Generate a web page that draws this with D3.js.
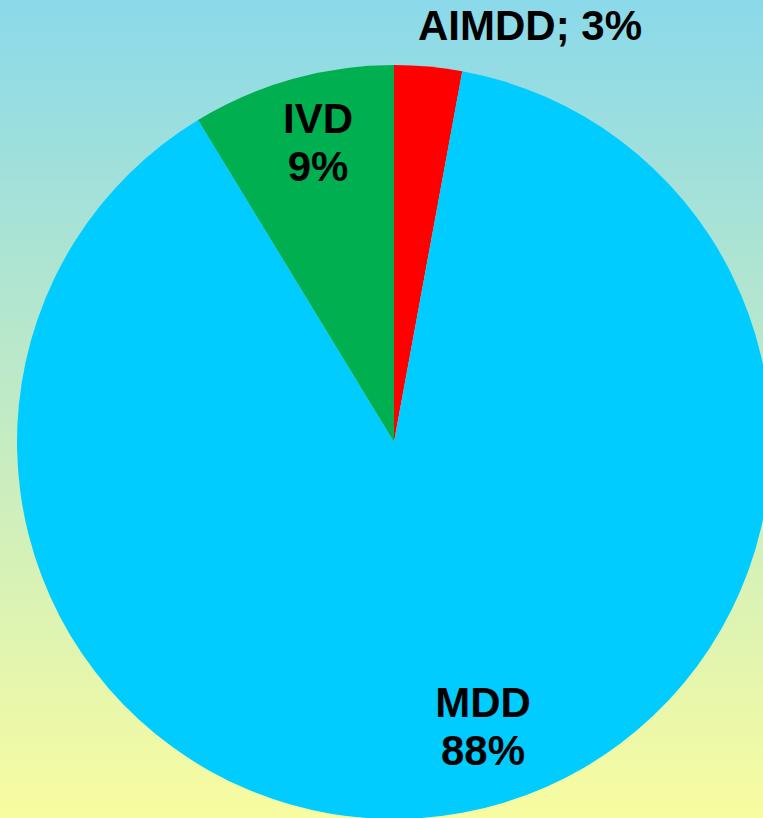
<!DOCTYPE html>
<html>
<head>
<meta charset="utf-8">
<script src="https://cdn.jsdelivr.net/npm/d3@7"></script>
<style>
  html, body { margin: 0; padding: 0; overflow: hidden; }
  #chart { width: 763px; height: 818px; }
</style>
</head>
<body>
<div id="chart"></div>
<script>
// slices in drawing order, clockwise from 12 o'clock
const categories = ["AIMDD", "MDD", "IVD"];
const shares = [2.9, 88.4, 8.7];
const labels = ["AIMDD; 3%", "MDD\n88%", "IVD\n9%"];
const colors = ["#ff0000", "#00ccff", "#00b050"];

const width = 763, height = 818;
const cx = 394, cy = 442, radius = 377;

const svg = d3.select("#chart").append("svg")
    .attr("width", width)
    .attr("height", height);

// background gradient
const grad = svg.append("defs").append("linearGradient")
    .attr("id", "bg")
    .attr("x1", 0).attr("y1", 0)
    .attr("x2", 0).attr("y2", 1);
grad.append("stop").attr("offset", "0%").attr("stop-color", "#8ad9ea");
grad.append("stop").attr("offset", "100%").attr("stop-color", "#f8fca0");

svg.append("rect")
    .attr("width", width)
    .attr("height", height)
    .attr("fill", "url(#bg)");

const data = categories.map((c, i) => ({name: c, value: shares[i], label: labels[i], color: colors[i]}));

const pie = d3.pie()
    .sort(null)
    .value(d => d.value);

const arc = d3.arc()
    .innerRadius(0)
    .outerRadius(radius);

const g = svg.append("g")
    .attr("transform", `translate(${cx},${cy})`);

const arcs = pie(data);

g.selectAll("path")
    .data(arcs)
    .enter().append("path")
    .attr("d", arc)
    .attr("fill", d => d.data.color);

// label positions (relative to the centre)
const labelPos = {
    "AIMDD": [136, -402],
    "MDD": [89, 275],
    "IVD": [-76, -309]
};

const lineH = 48;
arcs.forEach(a => {
    const [lx, ly] = labelPos[a.data.name];
    const lines = a.data.label.split("\n");
    const t = g.append("text")
        .attr("x", lx)
        .attr("y", ly)
        .attr("text-anchor", "middle")
        .style("font-family", "'Liberation Sans', Arial, sans-serif")
        .style("font-weight", "bold")
        .style("font-size", "42px")
        .style("fill", "#000");
    lines.forEach((l, i) => {
        t.append("tspan")
            .attr("x", lx)
            .attr("dy", i === 0 ? 0 : lineH)
            .text(l);
    });
});
</script>
</body>
</html>
